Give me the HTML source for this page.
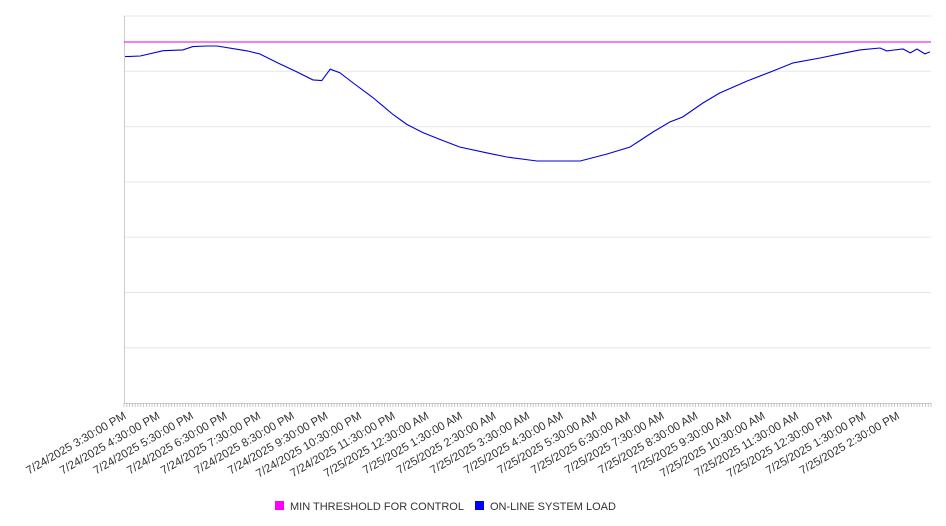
<!DOCTYPE html>
<html><head><meta charset="utf-8"><style>
html,body{margin:0;padding:0;background:#fff;width:946px;height:526px;overflow:hidden;font-family:"Liberation Sans","DejaVu Sans",sans-serif}
</style></head><body>
<svg id="chart" width="946" height="526" xmlns="http://www.w3.org/2000/svg"></svg>
<script>
const hourLabels=["7/24/2025 3:30:00 PM","7/24/2025 4:30:00 PM","7/24/2025 5:30:00 PM","7/24/2025 6:30:00 PM","7/24/2025 7:30:00 PM","7/24/2025 8:30:00 PM","7/24/2025 9:30:00 PM","7/24/2025 10:30:00 PM","7/24/2025 11:30:00 PM","7/25/2025 12:30:00 AM","7/25/2025 1:30:00 AM","7/25/2025 2:30:00 AM","7/25/2025 3:30:00 AM","7/25/2025 4:30:00 AM","7/25/2025 5:30:00 AM","7/25/2025 6:30:00 AM","7/25/2025 7:30:00 AM","7/25/2025 8:30:00 AM","7/25/2025 9:30:00 AM","7/25/2025 10:30:00 AM","7/25/2025 11:30:00 AM","7/25/2025 12:30:00 PM","7/25/2025 1:30:00 PM","7/25/2025 2:30:00 PM"];
const loadMinutes=[2,29,70,105,123,148,166,220,242,278,308,337,353,368,385,409,444,480,505,533,564,599,648,683,737,766,814,862,903,944,974,997,1033,1063,1112,1158,1194,1242,1277,1313,1349,1361,1390,1403,1415,1429,1438];
const loadValues=[6265,6277,6373,6386,6446,6458,6458,6368,6314,6133,5993,5845,5831,6037,5975,5789,5526,5219,5038,4893,4767,4631,4523,4450,4378,4378,4378,4504,4631,4902,5083,5173,5427,5608,5825,6006,6151,6241,6314,6386,6422,6368,6404,6332,6404,6314,6350];
const thresholdValue=6530;
const yMax=7000, yStep=1000, totalMinutes=1440;

const NS="http://www.w3.org/2000/svg";
const svg=document.getElementById('chart');
const L=124,R=931,T=16,B=403;
const xs=m=>L+(R-L)*m/totalMinutes;
const ys=v=>B-(B-T)*v/yMax;
function mk(tag,attrs,parent){const e=document.createElementNS(NS,tag);for(const k in attrs)e.setAttribute(k,attrs[k]);(parent||svg).appendChild(e);return e;}

for(let v=yStep;v<=yMax;v+=yStep){
  const g=mk('line',{x1:L,x2:R,y1:ys(v),y2:ys(v),stroke:'#e6e6e6','stroke-width':1});
  
  
}
const ya=mk('line',{x1:L+0.5,x2:L+0.5,y1:T,y2:B,stroke:'#ccc'});


const xa=mk('line',{x1:L,x2:R,y1:B+0.5,y2:B+0.5,stroke:'#ccc'});


for(let m=0;m<=totalMinutes;m+=5){
  const t=mk('line',{x1:xs(m),x2:xs(m),y1:B,y2:B+4,stroke:'#bbb','stroke-width':0.8});
  
  
}
hourLabels.forEach((s,i)=>{
  const x=xs(i*60), y=B+10;
  const t=mk('text',{x:x,y:y,'text-anchor':'end','font-size':11.5,fill:'#333',transform:`rotate(-30 ${x} ${y})`,dy:'0.5em'});
  t.textContent=s;
  
  
});
const th=mk('line',{x1:L,x2:R,y1:ys(thresholdValue),y2:ys(thresholdValue),stroke:'#e000e0','stroke-width':1});


const pts=loadMinutes.map((m,i)=>xs(m).toFixed(1)+','+ys(loadValues[i]).toFixed(1)).join(' ');
const pl=mk('polyline',{points:pts,fill:'none',stroke:'#0000dd','stroke-width':1.1});



const lg=mk('g',{});


const r1=mk('rect',{x:275,y:501,width:9,height:9,fill:'#ff00ff'},lg);


const t1=mk('text',{x:290,y:510,'font-size':11,fill:'#333'},lg);
t1.textContent='MIN THRESHOLD FOR CONTROL';


const r2=mk('rect',{x:475,y:501,width:9,height:9,fill:'#0000ff'},lg);


const t2=mk('text',{x:490,y:510,'font-size':11,fill:'#333'},lg);
t2.textContent='ON-LINE SYSTEM LOAD';


</script>
</body></html>
